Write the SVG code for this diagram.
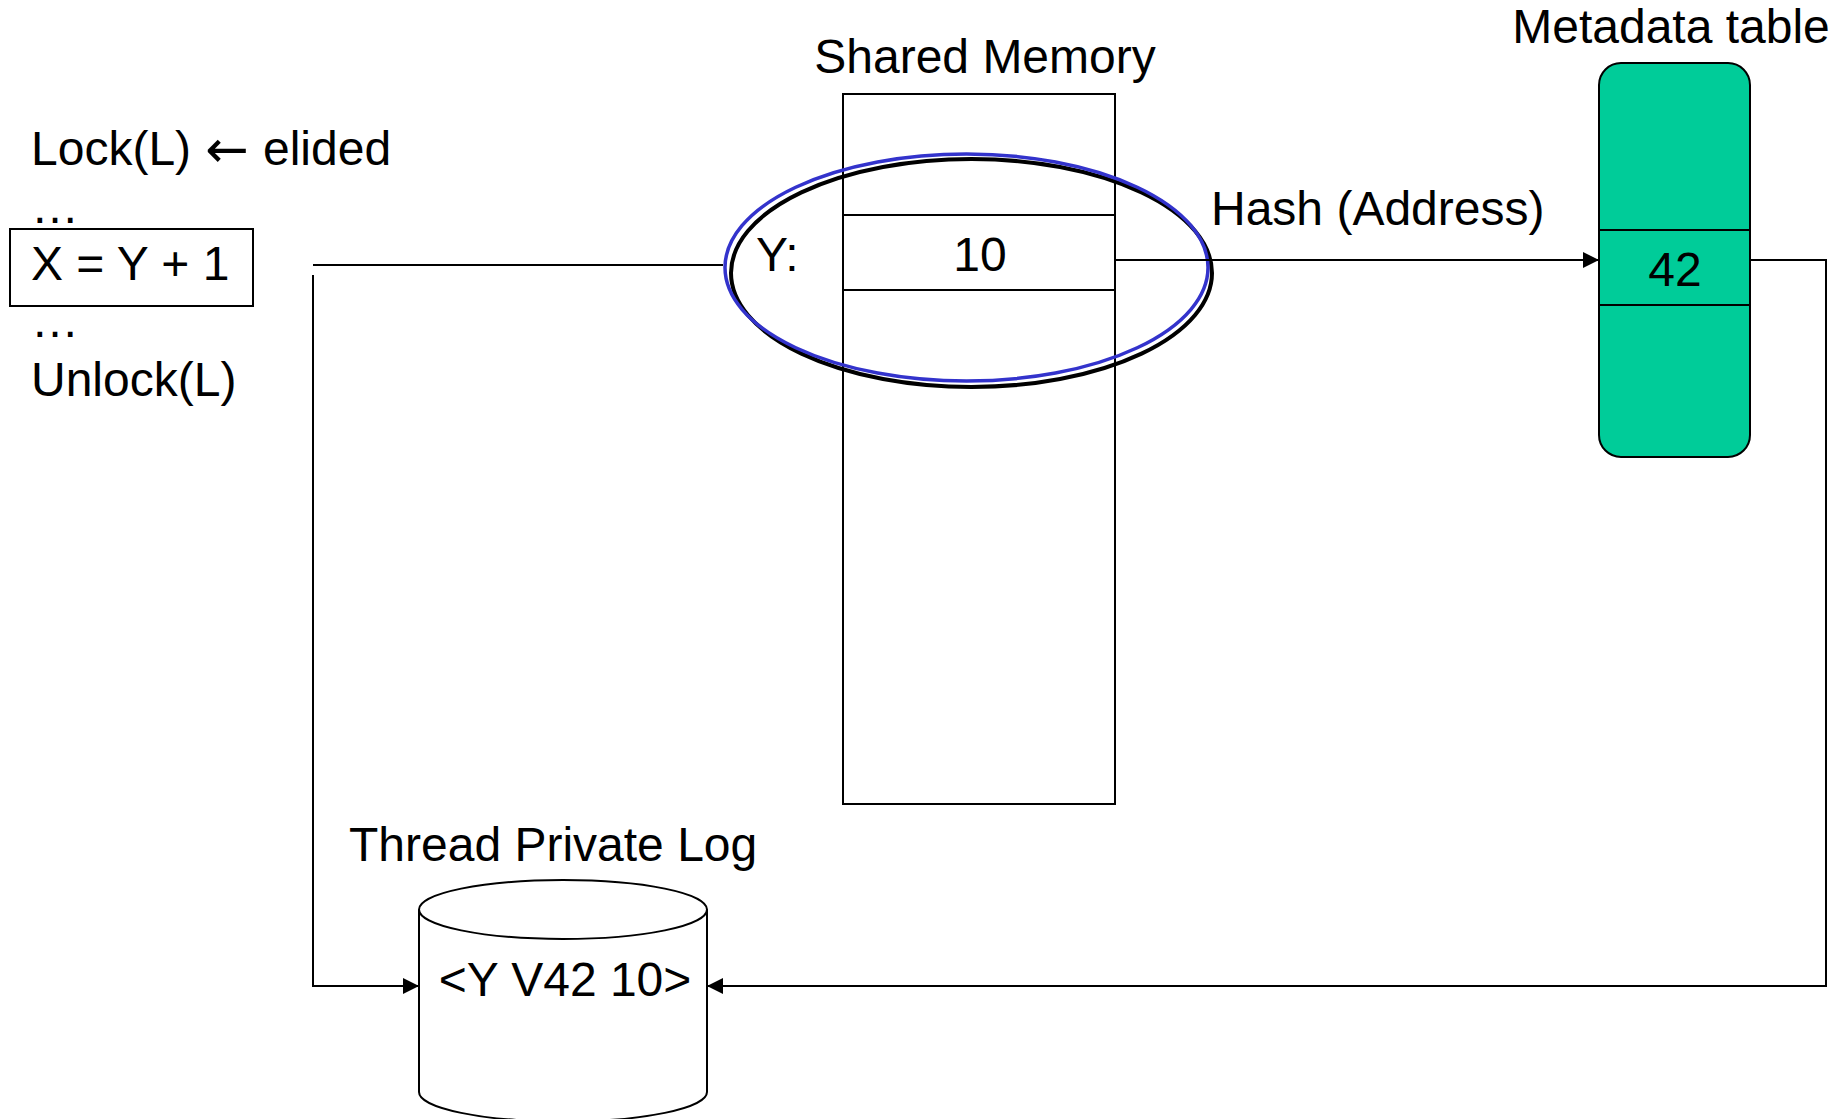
<svg xmlns="http://www.w3.org/2000/svg" width="1843" height="1119" viewBox="0 0 1843 1119">
  <style>
    text { font-family: "Liberation Sans", Arial, sans-serif; font-size: 48px; fill: #000; }
    .mid { text-anchor: middle; }
    .sym { font-family: "DejaVu Sans", sans-serif; font-size: 52px; }
    .line { fill: none; stroke: #000; stroke-width: 2; }
    .box { fill: #fff; stroke: #000; stroke-width: 2; }
  </style>
  <defs>
    <marker id="arrow" viewBox="0 0 16 16" refX="16" refY="8" markerWidth="16" markerHeight="16" markerUnits="userSpaceOnUse" orient="auto">
      <path d="M0,0 L16,8 L0,16 Z" fill="#000"/>
    </marker>
  </defs>
  <rect width="1843" height="1119" fill="#fff"/>

  <!-- critical section code -->
  <g id="code">
    <text x="31" y="165">Lock(L) <tspan class="sym" x="205" y="167">←</tspan><tspan x="263" y="165">elided</tspan></text>
    <text x="31" y="223">…</text>
    <rect class="box" x="10" y="229" width="243" height="77"/>
    <text x="31" y="280">X = Y + 1</text>
    <text x="31" y="337">…</text>
    <text x="31" y="396">Unlock(L)</text>
  </g>

  <!-- shared memory column -->
  <g id="shared-memory">
    <text class="mid" x="985" y="73">Shared Memory</text>
    <rect class="box" x="843" y="94" width="272" height="710"/>
    <line class="line" x1="843" y1="215" x2="1115" y2="215"/>
    <line class="line" x1="843" y1="290" x2="1115" y2="290"/>
    <text x="756" y="271">Y:</text>
    <text class="mid" x="980" y="271">10</text>
    <ellipse cx="971.5" cy="273" rx="240.5" ry="114" fill="none" stroke="#000" stroke-width="4"/>
    <ellipse cx="966.5" cy="267.5" rx="241.5" ry="113.5" fill="none" stroke="#3333CC" stroke-width="3.5"/>
  </g>

  <!-- metadata table -->
  <g id="metadata-table">
    <text class="mid" x="1671" y="43">Metadata table</text>
    <rect x="1599" y="63" width="151" height="394" rx="22" ry="22" fill="#00CC99" stroke="#000" stroke-width="2"/>
    <line class="line" x1="1599" y1="230" x2="1750" y2="230"/>
    <line class="line" x1="1599" y1="305" x2="1750" y2="305"/>
    <text class="mid" x="1675" y="286">42</text>
  </g>

  <!-- thread private log -->
  <g id="private-log">
    <text x="349" y="861">Thread Private Log</text>
    <path d="M419,909.5 L419,1092 A144,29.5 0 0 0 707,1092 L707,909.5" fill="#fff" stroke="#000" stroke-width="2"/>
    <ellipse cx="563" cy="909.5" rx="144" ry="29.5" fill="#fff" stroke="#000" stroke-width="2"/>
    <text class="mid" x="565" y="996">&lt;Y V42 10&gt;</text>
  </g>

  <!-- connectors -->
  <g id="connectors">
    <line class="line" x1="313" y1="265" x2="723" y2="265"/>
    <polyline class="line" points="313,275 313,986 419,986" marker-end="url(#arrow)"/>
    <line class="line" x1="1115" y1="260" x2="1599" y2="260" marker-end="url(#arrow)"/>
    <text x="1211" y="225">Hash (Address)</text>
    <polyline class="line" points="1750,260 1826,260 1826,986 707,986" stroke-width="2.5" marker-end="url(#arrow)"/>
  </g>
</svg>
